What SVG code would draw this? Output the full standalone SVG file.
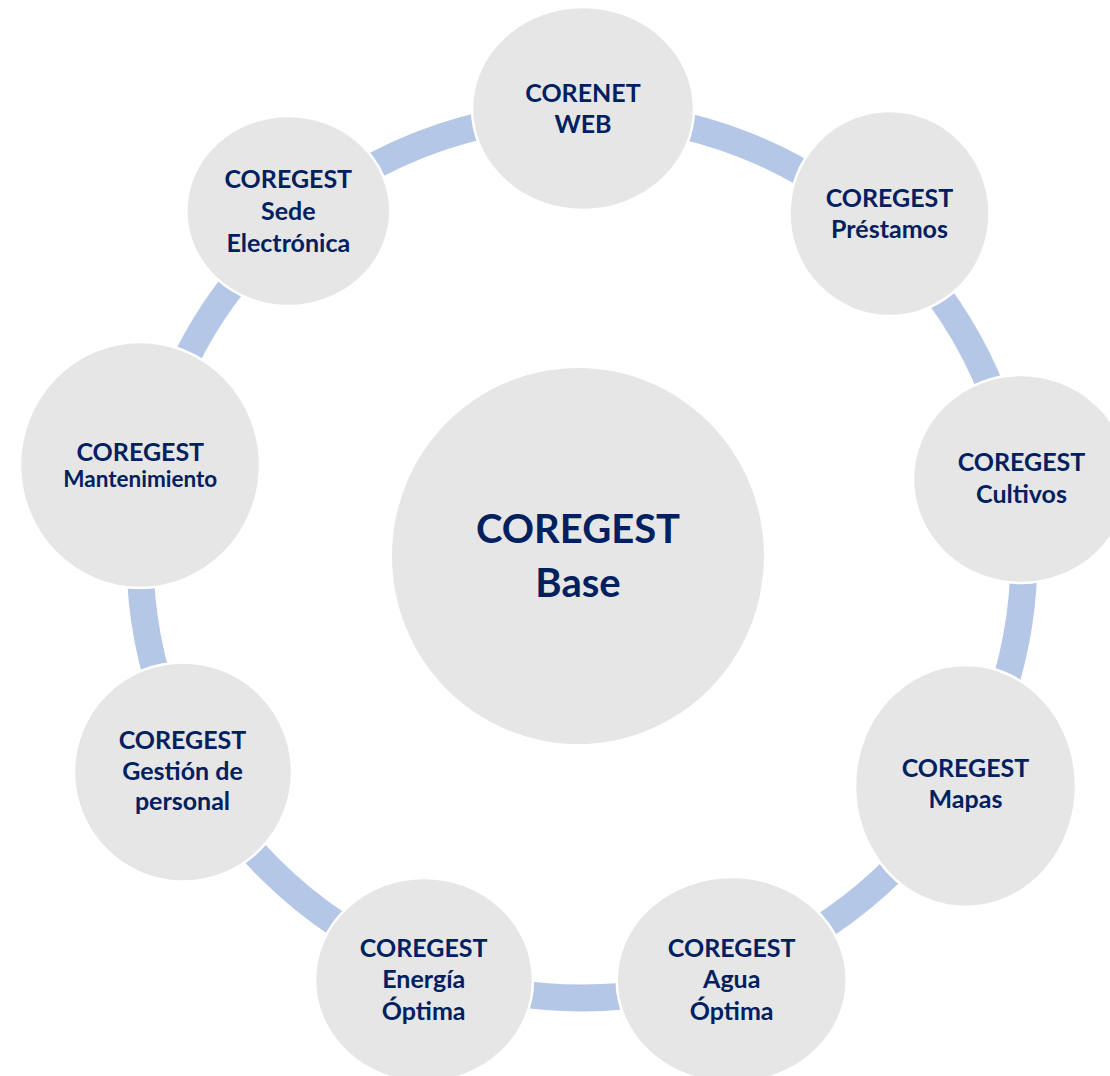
<svg xmlns="http://www.w3.org/2000/svg" width="1110" height="1076" viewBox="0 0 1110 1076">
<style>
.ring{fill:none;stroke:#B4C7E7;stroke-width:27}
.node{fill:#E6E6E6;stroke:#FFFFFF;stroke-width:2.5}
.core{fill:#E6E6E6;stroke:none}
text{font-family:Lato,"Liberation Sans",sans-serif;font-weight:bold;fill:#002060;text-anchor:middle;font-size:25px}
.big{font-size:40px}
.small{font-size:22.5px}
</style>
<rect width="1110" height="1076" fill="#FFFFFF"/>
<g id="connectors">
<circle class="ring" cx="582" cy="556" r="442"/>
</g>
<g id="node-base">
<ellipse class="core" cx="578" cy="556" rx="186" ry="188"/>
<text class="big" x="578" y="543">COREGEST</text>
<text class="big" x="578" y="597">Base</text>
</g>
<g id="node-corenet-web">
<ellipse class="node" cx="583" cy="108.5" rx="111" ry="101.5"/>
<text x="583" y="102">CORENET</text>
<text x="583" y="133">WEB</text>
</g>
<g id="node-prestamos">
<ellipse class="node" cx="889.5" cy="213.5" rx="100" ry="102.5"/>
<text x="889.5" y="207">COREGEST</text>
<text x="889.5" y="238">Préstamos</text>
</g>
<g id="node-cultivos">
<ellipse class="node" cx="1021" cy="479" rx="108" ry="104"/>
<text x="1021.5" y="471">COREGEST</text>
<text x="1021.5" y="503">Cultivos</text>
</g>
<g id="node-mapas">
<ellipse class="node" cx="965.5" cy="786" rx="110.5" ry="121"/>
<text x="965.5" y="777">COREGEST</text>
<text x="965.5" y="808">Mapas</text>
</g>
<g id="node-agua">
<ellipse class="node" cx="731.7" cy="980" rx="115" ry="103"/>
<text x="731.7" y="957">COREGEST</text>
<text x="731.7" y="988">Agua</text>
<text x="731.7" y="1020">Óptima</text>
</g>
<g id="node-energia">
<ellipse class="node" cx="424" cy="980" rx="109" ry="102"/>
<text x="423.7" y="957">COREGEST</text>
<text x="423.7" y="988">Energía</text>
<text x="423.7" y="1020">Óptima</text>
</g>
<g id="node-gestion">
<ellipse class="node" cx="183" cy="772" rx="109" ry="109.5"/>
<text x="182.5" y="749">COREGEST</text>
<text x="182.5" y="780">Gestión de</text>
<text x="182.5" y="810">personal</text>
</g>
<g id="node-mantenimiento">
<ellipse class="node" cx="140" cy="465" rx="120" ry="123"/>
<text x="140.3" y="461">COREGEST</text>
<text class="small" x="140.3" y="487">Mantenimiento</text>
</g>
<g id="node-sede">
<ellipse class="node" cx="288.3" cy="211" rx="102" ry="95"/>
<text x="288.3" y="188">COREGEST</text>
<text x="288.3" y="220">Sede</text>
<text x="288.3" y="252">Electrónica</text>
</g>
</svg>
